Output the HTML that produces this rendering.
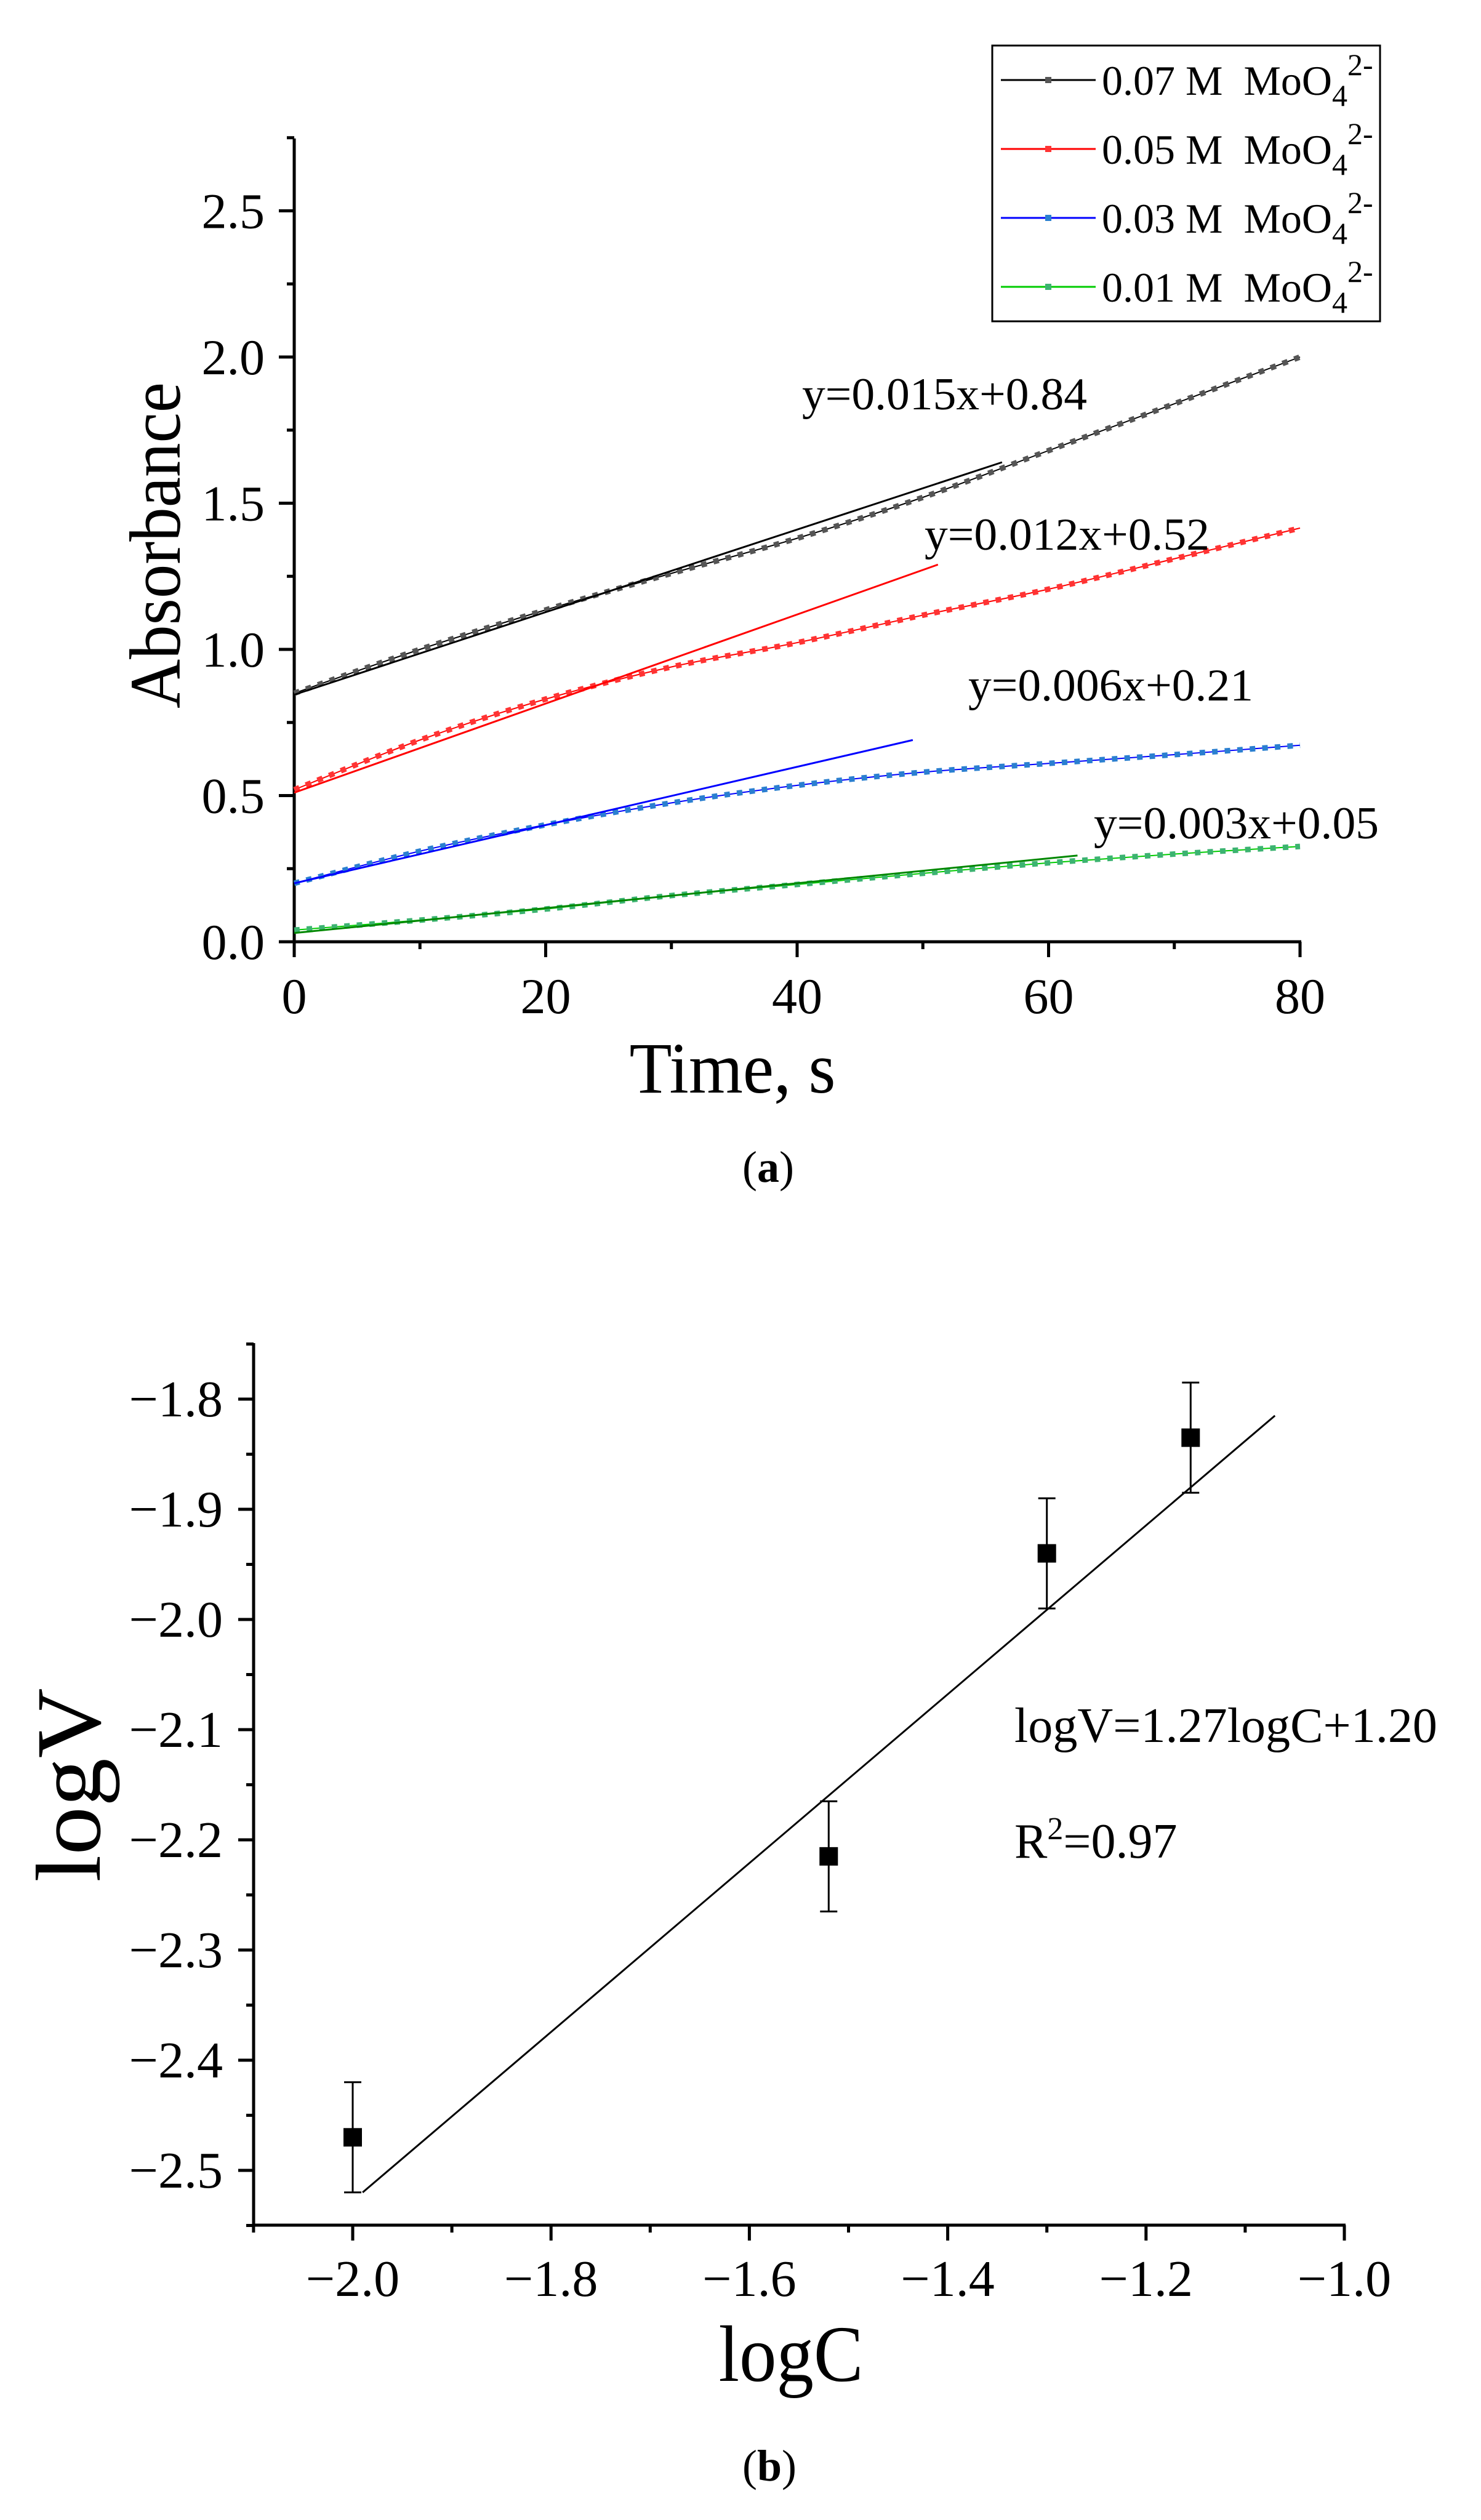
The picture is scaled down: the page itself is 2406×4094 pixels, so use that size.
<!DOCTYPE html>
<html><head><meta charset="utf-8"><style>
html,body{margin:0;padding:0;background:#fff;}
svg{display:block;font-family:"Liberation Serif",serif;}
</style></head><body>
<svg id="fig" width="2406" height="4094" viewBox="0 0 2406 4094" xmlns="http://www.w3.org/2000/svg">
<g id="ca"></g>
<g id="cb"></g>
</svg>
<script>
// ---- Chart (a) data ----
const timeCats = [0,10,20,30,40,50,60,70,80];
const abs007 = [0.85,1.00,1.135,1.26,1.38,1.52,1.68,1.84,2.00];
const abs005 = [0.52,0.69,0.83,0.94,1.023,1.117,1.206,1.31,1.415];
const abs003 = [0.20,0.31,0.40,0.475,0.535,0.58,0.61,0.64,0.672];
const abs001 = [0.04,0.074,0.112,0.158,0.196,0.234,0.27,0.30,0.326];
const fitX = [[0,56.3],[0,51.2],[0,49.2],[0,62.3]];
const fitY = [[0.845,1.64],[0.51,1.29],[0.2,0.69],[0.03,0.295]];
const fitLabels = ["y=0.015x+0.84","y=0.012x+0.52","y=0.006x+0.21","y=0.003x+0.05"];
const legendLabels = ["0.07 M","0.05 M","0.03 M","0.01 M"];
const yTicksA = [0,0.5,1.0,1.5,2.0,2.5];
const xTicksA = [0,20,40,60,80];
// ---- Chart (b) data ----
const logC = [-2.0,-1.52,-1.30,-1.155];
const logV = [-2.47,-2.215,-1.94,-1.835];
const logErr = [0.05,0.05,0.05,0.05];
const fitBX = [-1.99,-1.07];
const fitBY = [-2.52,-1.815];
const xTicksB = [-2.0,-1.8,-1.6,-1.4,-1.2,-1.0];
const yTicksB = [-1.8,-1.9,-2.0,-2.1,-2.2,-2.3,-2.4,-2.5];

const NS="http://www.w3.org/2000/svg";
function mk(p,tag,attrs){const e=document.createElementNS(NS,tag);for(const k in attrs)e.setAttribute(k,attrs[k]);p.appendChild(e);return e;}
function fmt(v){return (v<0?"\u2212":"")+Math.abs(v).toFixed(1);}
function smooth(P){let d=`M${P[0][0]},${P[0][1]}`;for(let i=0;i<P.length-1;i++){const p0=P[Math.max(i-1,0)],p1=P[i],p2=P[i+1],p3=P[Math.min(i+2,P.length-1)];
 d+=` C${p1[0]+(p2[0]-p0[0])/6},${p1[1]+(p2[1]-p0[1])/6} ${p2[0]-(p3[0]-p1[0])/6},${p2[1]-(p3[1]-p1[1])/6} ${p2[0]},${p2[1]}`;}return d;}

// ===== Chart A =====
const ga=document.getElementById('ca');
const AX0=478, AX1=2112, AY0=1530, AYT=225;
const xa=t=>AX0+t*(AX1-AX0)/80;
const ya=v=>AY0-v*475;
let e;
e=mk(ga,'line',{x1:AX0,y1:AYT,x2:AX0,y2:AY0+2,stroke:'#000','stroke-width':5});


e=mk(ga,'line',{x1:AX0-2,y1:AY0,x2:AX1+2,y2:AY0,stroke:'#000','stroke-width':5});


for(let v=0;v<=2.751;v+=0.25){const major=Math.abs(v*2-Math.round(v*2))<1e-6;
 e=mk(ga,'line',{x1:AX0-(major?25:12),y1:ya(v),x2:AX0,y2:ya(v),stroke:'#000','stroke-width':5});
 
 }
yTicksA.forEach(v=>{e=mk(ga,'text',{x:430,y:ya(v)+28,'font-size':82,'text-anchor':'end'});e.textContent=v.toFixed(1);
 
 });
for(let t=0;t<=80;t+=10){const major=t%20===0;
 e=mk(ga,'line',{x1:xa(t),y1:AY0,x2:xa(t),y2:AY0+(major?25:12),stroke:'#000','stroke-width':5});
 
 }
xTicksA.forEach(t=>{e=mk(ga,'text',{x:xa(t),y:1646,'font-size':82,'text-anchor':'middle'});e.textContent=t;
 
 });
e=mk(ga,'text',{x:1190,y:1775,'font-size':118,'text-anchor':'middle',textLength:335,lengthAdjust:'spacingAndGlyphs'});e.textContent='Time, s';


e=mk(ga,'text',{x:0,y:0,'font-size':118,'text-anchor':'middle',textLength:530,lengthAdjust:'spacingAndGlyphs',transform:'translate(292,886) rotate(-90)'});e.textContent='Absorbance';



const series=[abs007,abs005,abs003,abs001];
const lineCols=['#000','#f00','#00f','#0c0'];
const markCols=['#555','#f33','#2a7fd0','#3cb371'];
const fitCols=['#000','#f00','#00f','#080'];
series.forEach((arr,i)=>{
 const d=smooth(timeCats.map((t,j)=>[xa(t),ya(arr[j])]));
 e=mk(ga,'path',{d:d,fill:'none',stroke:lineCols[i],'stroke-width':2});
 
 
 e=mk(ga,'path',{d:d,fill:'none',stroke:markCols[i],'stroke-width':9,'stroke-dasharray':'9 11.4'});
 
 
});
fitX.forEach((fx,i)=>{
 e=mk(ga,'line',{x1:xa(fx[0]),y1:ya(fitY[i][0]),x2:xa(fx[1]),y2:ya(fitY[i][1]),stroke:fitCols[i],'stroke-width':3});
 
 
});
const eqPos=[[1303,665],[1502,893],[1573,1138],[1777,1362]];
fitLabels.forEach((s,i)=>{
 e=mk(ga,'text',{x:eqPos[i][0],y:eqPos[i][1],'font-size':74,textLength:463,lengthAdjust:'spacingAndGlyphs'});e.textContent=s;
 
 
});
// legend
e=mk(ga,'rect',{x:1612,y:74,width:630,height:448,fill:'#fff',stroke:'#000','stroke-width':3});


legendLabels.forEach((s,i)=>{
 const y=130+i*112;
 e=mk(ga,'line',{x1:1626,y1:y,x2:1780,y2:y,stroke:lineCols[i],'stroke-width':3});
 
 
 e=mk(ga,'rect',{x:1698,y:y-5,width:10,height:10,fill:markCols[i]});
 
 
 const t=mk(ga,'text',{x:1790,y:y+24,'font-size':68});
 
 
 const a=mk(t,'tspan',{});a.textContent=s+'\u00a0\u00a0MoO';
 const b=mk(t,'tspan',{dy:18,'font-size':50});b.textContent='4';
 const c=mk(t,'tspan',{dy:-50,'font-size':50});c.textContent='2-';
});
e=mk(ga,'text',{x:1248,y:1920,'font-size':72,'text-anchor':'middle'});


(function(){const a=mk(e,'tspan',{});a.textContent='(';const b=mk(e,'tspan',{'font-weight':'bold'});b.textContent='a';const c=mk(e,'tspan',{});c.textContent=')';})();

// ===== Chart B =====
const gb=document.getElementById('cb');
const BXL=412, BXR=2184, BYT=2182, BYB=3615;
const xb=c=>573+(c+2)*1611;
const yb=v=>2273+(-1.8-v)*1790;
e=mk(gb,'line',{x1:BXL,y1:BYT,x2:BXL,y2:BYB+2,stroke:'#000','stroke-width':5});


e=mk(gb,'line',{x1:BXL-2,y1:BYB,x2:BXR+2,y2:BYB,stroke:'#000','stroke-width':5});


for(let k=0;k<=16;k++){const v=-1.75-k*0.05;const major=k%2===1;
 e=mk(gb,'line',{x1:BXL-(major?25:12),y1:yb(v),x2:BXL,y2:yb(v),stroke:'#000','stroke-width':5});
 
 }
yTicksB.forEach(v=>{e=mk(gb,'text',{x:362,y:yb(v)+28,'font-size':84,'text-anchor':'end'});e.textContent=fmt(v);
 
 });
for(let k=0;k<=11;k++){const c=-2.1+k*0.1;const major=k%2===1;
 e=mk(gb,'line',{x1:xb(c),y1:BYB,x2:xb(c),y2:BYB+(major?25:12),stroke:'#000','stroke-width':5});
 
 }
xTicksB.forEach(c=>{e=mk(gb,'text',{x:xb(c),y:3730,'font-size':84,'text-anchor':'middle'});e.textContent=fmt(c);
 
 });
e=mk(gb,'text',{x:1285,y:3868,'font-size':130,'text-anchor':'middle',textLength:235,lengthAdjust:'spacingAndGlyphs'});e.textContent='logC';


e=mk(gb,'text',{x:0,y:0,'font-size':150,'text-anchor':'middle',textLength:315,lengthAdjust:'spacingAndGlyphs',transform:'translate(162,2900) rotate(-90)'});e.textContent='logV';


e=mk(gb,'line',{x1:xb(fitBX[0]),y1:yb(fitBY[0]),x2:xb(fitBX[1]),y2:yb(fitBY[1]),stroke:'#000','stroke-width':3});


logC.forEach((c,i)=>{
 const x=xb(c),y=yb(logV[i]),t=yb(logV[i]+logErr[i]),b=yb(logV[i]-logErr[i]);
 e=mk(gb,'path',{d:`M${x},${t}V${b}M${x-14},${t}H${x+14}M${x-14},${b}H${x+14}`,stroke:'#000','stroke-width':3,fill:'none'});
 
 
 e=mk(gb,'rect',{x:x-15,y:y-15,width:30,height:30,fill:'#000'});
 
 
});
e=mk(gb,'text',{x:1648,y:2830,'font-size':80,textLength:687,lengthAdjust:'spacingAndGlyphs'});e.textContent='logV=1.27logC+1.20';


e=mk(gb,'text',{x:1648,y:3018,'font-size':80});


(function(){const a=mk(e,'tspan',{});a.textContent='R';const b=mk(e,'tspan',{dy:-30,'font-size':52});b.textContent='2';const c=mk(e,'tspan',{dy:30});c.textContent='=0.97';})();
e=mk(gb,'text',{x:1250,y:4030,'font-size':72,'text-anchor':'middle'});


(function(){const a=mk(e,'tspan',{});a.textContent='(';const b=mk(e,'tspan',{'font-weight':'bold'});b.textContent='b';const c=mk(e,'tspan',{});c.textContent=')';})();
</script>
</body></html>
